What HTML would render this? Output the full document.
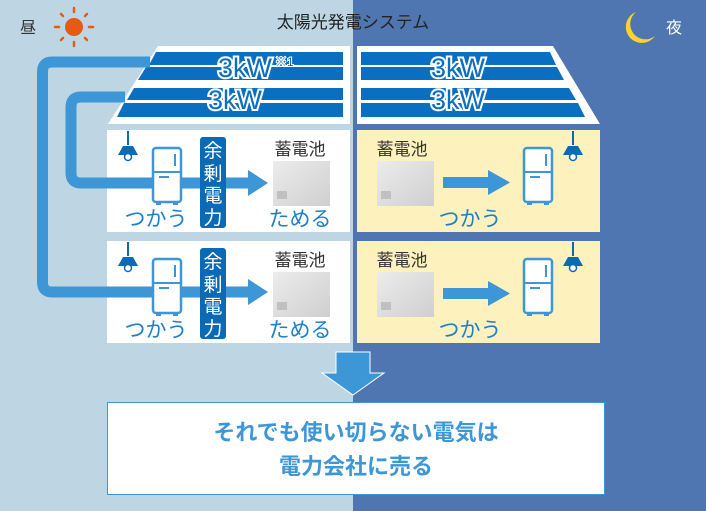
<!DOCTYPE html>
<html><head><meta charset="utf-8"><style>
html,body{margin:0;padding:0;width:706px;height:511px;overflow:hidden}
svg{display:block}
text{font-family:"Liberation Sans","Noto Sans CJK JP",sans-serif}
</style></head><body>
<svg width="706" height="511" viewBox="0 0 706 511" xmlns="http://www.w3.org/2000/svg">
<defs>
<g id="fridge">
<rect x="0" y="0" width="28" height="54" rx="3" fill="#fff" stroke="#3d96d6" stroke-width="2.5"/>
<line x1="0" y1="24" x2="28" y2="24" stroke="#3d96d6" stroke-width="2"/>
<line x1="22" y1="6" x2="22" y2="18" stroke="#3d96d6" stroke-width="2"/>
<line x1="6" y1="29" x2="16" y2="29" stroke="#3d96d6" stroke-width="2"/>
<rect x="3" y="54" width="5" height="3" fill="#3d96d6"/><rect x="20" y="54" width="5" height="3" fill="#3d96d6"/>
</g>
<g id="lamp">
<line x1="0" y1="0" x2="0" y2="14" stroke="#0b6ab5" stroke-width="2"/>
<path d="M-10 24 L-5 15 L5 15 L10 24 Z" fill="#0b6ab5"/>
<circle cx="0" cy="26" r="3.5" fill="#fff" stroke="#0b6ab5" stroke-width="1.5"/>
</g>
<linearGradient id="bg" x1="0" y1="0" x2="1" y2="1"><stop offset="0" stop-color="#ececec"/><stop offset="1" stop-color="#cfcfcf"/></linearGradient>
<g id="batt">
<rect x="0" y="0" width="57" height="45" fill="url(#bg)"/>
<rect x="4" y="30" width="10" height="8" fill="#c0c0c0"/>
</g>
</defs>
<rect x="0" y="0" width="353" height="511" fill="#bed5e3"/>
<rect x="353" y="0" width="353" height="511" fill="#4f76b0"/>

<text x="353" y="28" font-size="17" text-anchor="middle" fill="#222">太陽光発電システム</text>
<text x="20" y="33" font-size="16" fill="#333">昼</text>
<g stroke="#e85a14" stroke-width="2.5" stroke-linecap="round">
<line x1="74" y1="8" x2="74" y2="12"/><line x1="74" y1="42" x2="74" y2="46"/>
<line x1="55" y1="27" x2="59" y2="27"/><line x1="89" y1="27" x2="93" y2="27"/>
<line x1="61" y1="14" x2="63" y2="16"/><line x1="85" y1="38" x2="87" y2="40"/>
<line x1="87" y1="14" x2="85" y2="16"/><line x1="61" y1="40" x2="63" y2="38"/>
</g>
<circle cx="74" cy="27" r="9" fill="#e85a14"/>
<path d="M636 12 A16 16 0 1 0 655 36 A13 13 0 0 1 636 12 Z" fill="#fcd32c"/>
<text x="666" y="33" font-size="16" fill="#fff">夜</text>

<polygon points="158,46 350,46 350,124 108,124" fill="#fff"/>
<polygon points="357,46 553,46 600,124 357,124" fill="#fff"/>
<g fill="#0a6fc0">
<polygon points="156,52 343,52 343,65 149,65"/>
<polygon points="146,67 343,67 343,80 138,80"/>
<polygon points="134,88 343,88 343,100 127,100"/>
<polygon points="124,103 343,103 343,117 117,117"/>
<polygon points="361,52 550,52 556,65 361,65"/>
<polygon points="361,67 557,67 564,80 361,80"/>
<polygon points="361,88 569,88 576,100 361,100"/>
<polygon points="361,103 578,103 585,117 361,117"/>
</g>
<g font-size="27" fill="#0a6fc0" stroke="#fff" stroke-width="4" paint-order="stroke" text-anchor="middle">
<text x="245" y="77">3kW</text>
<text x="235" y="109">3kW</text>
<text x="458" y="77">3kW</text>
<text x="458" y="109">3kW</text>
</g>
<text x="275" y="66" font-size="12" fill="#0a6fc0" stroke="#fff" stroke-width="2" paint-order="stroke">※1</text>

<rect x="107" y="130" width="243" height="102" fill="#fff"/>
<rect x="357" y="130" width="243" height="102" fill="#fdf2bd"/>
<rect x="107" y="241" width="243" height="102" fill="#fff"/>
<rect x="357" y="241" width="243" height="102" fill="#fdf2bd"/>

<path d="M150 62 L52 62 Q42.5 62 42.5 72 L42.5 282 Q42.5 292 52 292 L250 292" fill="none" stroke="#3d96d6" stroke-width="11"/>
<path d="M125 97 L81 97 Q71 97 71 107 L71 173 Q71 183 81 183 L250 183" fill="none" stroke="#3d96d6" stroke-width="11"/>
<polygon points="248,170 268,183 248,196" fill="#3d96d6"/>
<polygon points="248,279 268,292 248,305" fill="#3d96d6"/>

<use href="#lamp" x="128" y="131"/>
<use href="#fridge" x="153" y="148"/>
<rect x="200" y="137" width="26" height="91" rx="3" fill="#0b6ab5"/>
<g font-size="19" fill="#fff" text-anchor="middle"><text x="213" y="157">余</text><text x="213" y="180">剰</text><text x="213" y="202">電</text><text x="213" y="224">力</text></g>
<text x="300" y="155" font-size="17" fill="#333" text-anchor="middle">蓄電池</text>
<use href="#batt" x="273" y="161"/>
<text x="300" y="226" font-size="21" fill="#1f7fc8" text-anchor="middle">ためる</text>
<text x="156" y="226" font-size="21" fill="#1f7fc8" text-anchor="middle">つかう</text>

<use href="#lamp" x="128" y="242"/>
<use href="#fridge" x="153" y="259"/>
<rect x="200" y="248" width="26" height="91" rx="3" fill="#0b6ab5"/>
<g font-size="19" fill="#fff" text-anchor="middle"><text x="213" y="268">余</text><text x="213" y="291">剰</text><text x="213" y="313">電</text><text x="213" y="335">力</text></g>
<text x="300" y="266" font-size="17" fill="#333" text-anchor="middle">蓄電池</text>
<use href="#batt" x="273" y="272"/>
<text x="300" y="337" font-size="21" fill="#1f7fc8" text-anchor="middle">ためる</text>
<text x="156" y="337" font-size="21" fill="#1f7fc8" text-anchor="middle">つかう</text>

<text x="402" y="155" font-size="17" fill="#333" text-anchor="middle">蓄電池</text>
<use href="#batt" x="377" y="161"/>
<rect x="443" y="177" width="47" height="11" fill="#3d96d6"/>
<polygon points="488,170 510,182.5 488,195" fill="#3d96d6"/>
<use href="#fridge" x="524" y="148"/>
<use href="#lamp" x="573" y="131"/>
<text x="470" y="226" font-size="21" fill="#1f7fc8" text-anchor="middle">つかう</text>

<text x="402" y="266" font-size="17" fill="#333" text-anchor="middle">蓄電池</text>
<use href="#batt" x="377" y="272"/>
<rect x="443" y="288" width="47" height="11" fill="#3d96d6"/>
<polygon points="488,281 510,293.5 488,306" fill="#3d96d6"/>
<use href="#fridge" x="524" y="259"/>
<use href="#lamp" x="573" y="242"/>
<text x="470" y="337" font-size="21" fill="#1f7fc8" text-anchor="middle">つかう</text>

<polygon points="336,352 370,352 370,373 384,373 353,395 322,373 336,373" fill="#3d96d6" stroke="#fff" stroke-width="1"/>

<rect x="107.5" y="402.5" width="497" height="92" fill="#fff" stroke="#3d96d6" stroke-width="1"/>
<g font-size="22" font-weight="bold" fill="#3d96d6" text-anchor="middle">
<text x="356" y="440">それでも使い切らない電気は</text>
<text x="356" y="474">電力会社に売る</text>
</g>
</svg>
</body></html>
